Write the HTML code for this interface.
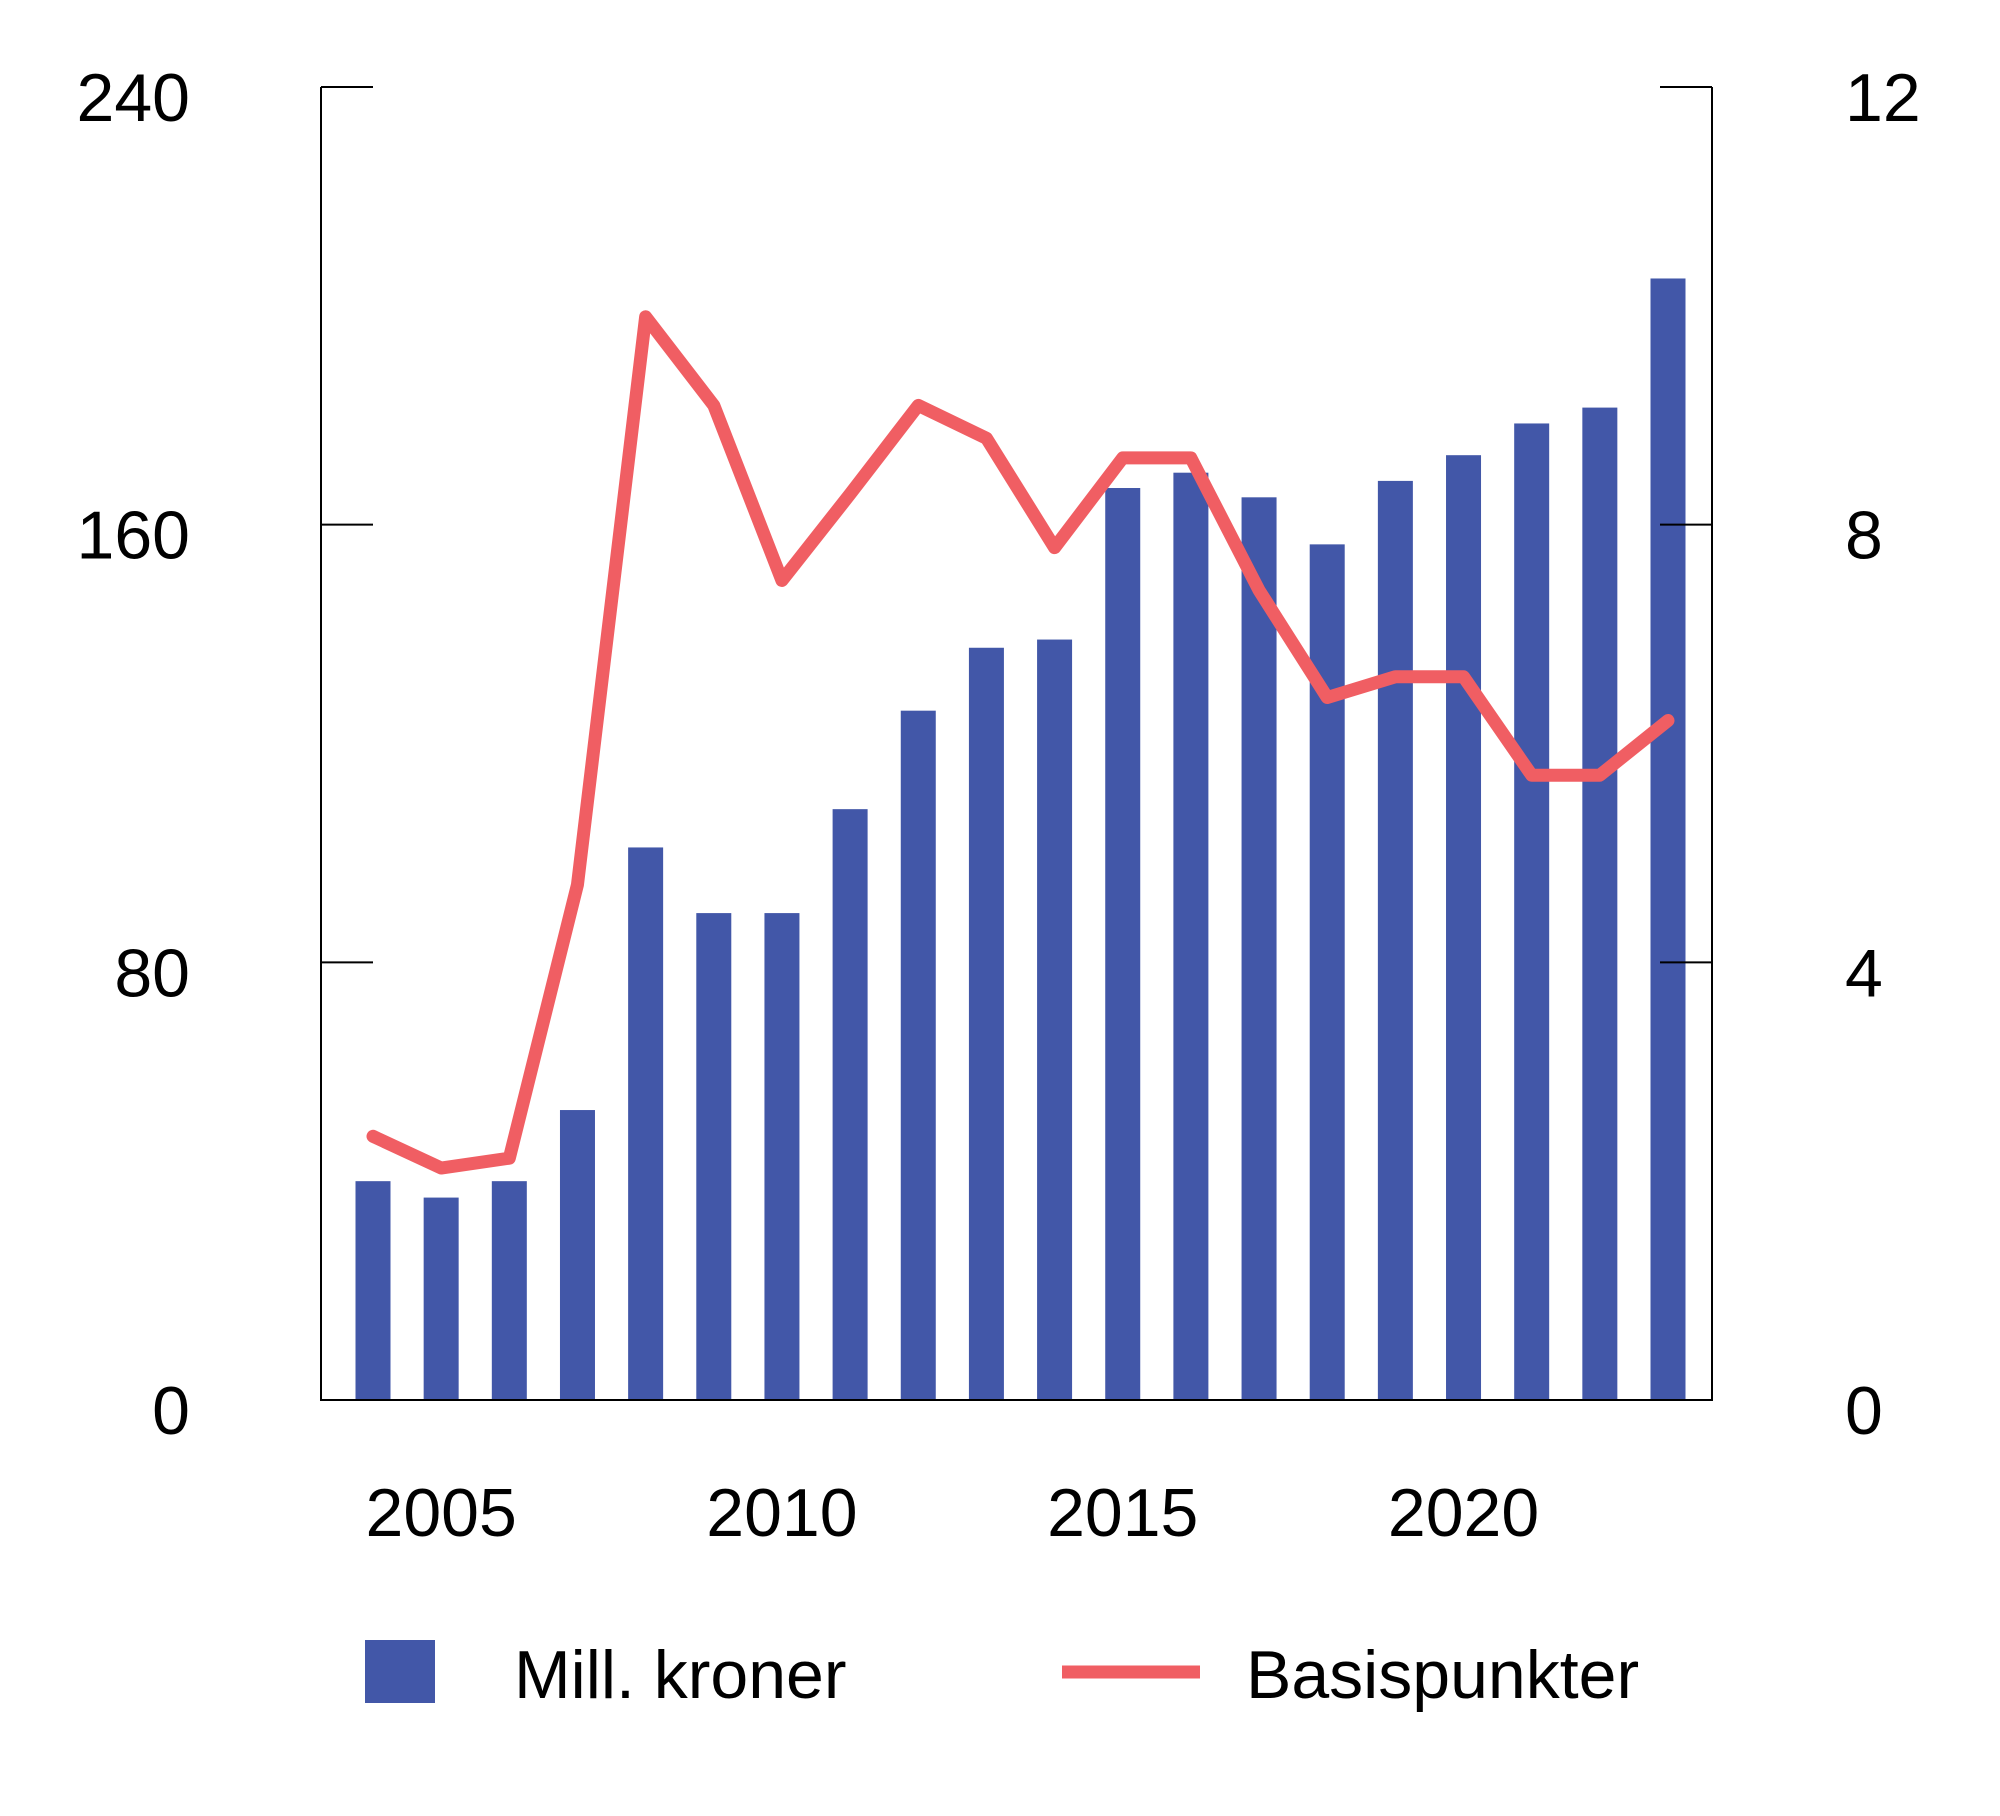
<!DOCTYPE html>
<html><head><meta charset="utf-8"><style>
html,body{margin:0;padding:0;background:#fff;}
svg{display:block;font-family:"Liberation Sans",Arial,sans-serif;}
</style></head><body>
<svg id="chart" width="2000" height="1816" viewBox="0 0 2000 1816" xmlns="http://www.w3.org/2000/svg"></svg>
<script>
const years=[2004,2005,2006,2007,2008,2009,2010,2011,2012,2013,2014,2015,2016,2017,2018,2019,2020,2021,2022,2023];
const millKroner=[40,37,40,53,101,89,89,108,126,137.5,139,166.7,169.5,165,156.4,168,172.7,178.5,181.4,205];
const basispunkter=[2.41,2.12,2.21,4.71,9.9,9.09,7.49,8.28,9.09,8.79,7.79,8.61,8.61,7.4,6.42,6.61,6.61,5.71,5.71,6.21];
const leftTicks=[0,80,160,240];
const rightTicks=[0,4,8,12];
const yearLabels=[2005,2010,2015,2020];

const NS="http://www.w3.org/2000/svg";
const svg=document.getElementById('chart');
const X0=321,X1=1712,Y0=1400,Y1=87;
const xFirst=373,xLast=1668;
function xs(yr){return xFirst+(yr-years[0])*(xLast-xFirst)/(years[years.length-1]-years[0]);}
function yL(v){return Y0-(v/240)*(Y0-Y1);}
function yR(v){return Y0-(v/12)*(Y0-Y1);}
function mk(tag,attrs){const e=document.createElementNS(NS,tag);for(const k in attrs)e.setAttribute(k,attrs[k]);svg.appendChild(e);return e;}

years.forEach((yr,i)=>{
  const b=mk('rect',{x:xs(yr)-17.5,y:yL(millKroner[i]),width:35,height:Y0-yL(millKroner[i]),fill:'#4257a8'});
  
  
});
const ax=mk('path',{d:`M${X0},${Y1} V${Y0} H${X1} V${Y1}`,fill:'none',stroke:'#000','stroke-width':2});


leftTicks.forEach(v=>{
  if(v>0){const t=mk('line',{x1:X0,x2:X0+52,y1:yL(v),y2:yL(v),stroke:'#000','stroke-width':2});
  
  }
  const l=mk('text',{x:190,y:yL(v)+34,'text-anchor':'end','font-size':68,fill:'#000'});
  l.textContent=v;
  
  
});
rightTicks.forEach(v=>{
  if(v>0){const t=mk('line',{x1:X1-52,x2:X1,y1:yR(v),y2:yR(v),stroke:'#000','stroke-width':2});
  
  }
  const l=mk('text',{x:1845,y:yR(v)+34,'text-anchor':'start','font-size':68,fill:'#000'});
  l.textContent=v;
  
  
});
yearLabels.forEach(yr=>{
  const l=mk('text',{x:xs(yr),y:1536,'text-anchor':'middle','font-size':68,fill:'#000'});
  l.textContent=yr;
  
  
});
const pts=years.map((yr,i)=>xs(yr)+','+yR(basispunkter[i])).join(' ');
const ln=mk('polyline',{points:pts,fill:'none',stroke:'#f05e63','stroke-width':13,'stroke-linejoin':'round','stroke-linecap':'round'});


const ls=mk('rect',{x:365,y:1640,width:70,height:63,fill:'#4257a8'});


const lt1=mk('text',{x:514,y:1698,'font-size':68,fill:'#000'});
lt1.textContent='Mill. kroner';


const ll=mk('line',{x1:1062,x2:1200,y1:1672,y2:1672,stroke:'#f05e63','stroke-width':13});


const lt2=mk('text',{x:1246,y:1698,'font-size':68,fill:'#000'});
lt2.textContent='Basispunkter';


</script>
</body></html>
